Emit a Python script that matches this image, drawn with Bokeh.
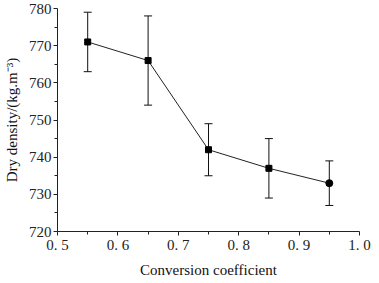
from bokeh.plotting import figure
from bokeh.models import Range1d, FixedTicker, Whisker, ColumnDataSource, TeeHead
from bokeh.embed import file_html
from bokeh.resources import INLINE

coef = [0.55, 0.65, 0.75, 0.85, 0.95]
density = [771, 766, 742, 737, 733]
upper = [779, 778, 749, 745, 739]
lower = [763, 754, 735, 729, 727]
x_ticks = [0.5, 0.6, 0.7, 0.8, 0.9, 1.0]
x_tick_labels = ["0. 5", "0. 6", "0. 7", "0. 8", "0. 9", "1. 0"]
y_ticks = [720, 730, 740, 750, 760, 770, 780]

FONT = "Liberation Serif"

p = figure(width=374, height=280, output_backend="svg", toolbar_location=None,
           x_range=Range1d(0.5, 1.0), y_range=Range1d(720, 780),
           min_border_left=57, min_border_right=15, min_border_top=8, min_border_bottom=48)
p.outline_line_color = None
p.xgrid.visible = False
p.ygrid.visible = False
p.background_fill_color = "white"

p.xaxis.ticker = FixedTicker(ticks=x_ticks, minor_ticks=[0.55, 0.65, 0.75, 0.85, 0.95])
p.xaxis.major_label_overrides = {t: l for t, l in zip(x_ticks, x_tick_labels)}
p.yaxis.ticker = FixedTicker(ticks=y_ticks, minor_ticks=[725, 735, 745, 755, 765, 775])

for ax in (p.xaxis[0], p.yaxis[0]):
    ax.axis_line_color = "#222222"
    ax.major_tick_line_color = "#222222"
    ax.minor_tick_line_color = "#222222"
    ax.major_tick_in = 0
    ax.major_tick_out = 4
    ax.minor_tick_in = 0
    ax.minor_tick_out = 3
    ax.major_label_text_font = FONT
    ax.major_label_text_font_size = "15px"
    ax.major_label_text_color = "#222222"
    ax.axis_label_text_font = FONT
    ax.axis_label_text_font_size = "15px"
    ax.axis_label_text_font_style = "normal"
    ax.axis_label_text_color = "#111111"

p.xaxis.axis_label = "Conversion coefficient"
p.yaxis.axis_label = "Dry density/(kg.m⁻³)"
p.xaxis.major_label_standoff = 1
p.xaxis.axis_label_standoff = 6
p.yaxis.major_label_standoff = 2
p.yaxis.axis_label_standoff = 6

src = ColumnDataSource(dict(x=coef, y=density, up=upper, lo=lower))
w = Whisker(source=src, base="x", upper="up", lower="lo", line_color="#111111", line_width=1,
            upper_head=TeeHead(size=8, line_color="#111111", line_width=1),
            lower_head=TeeHead(size=8, line_color="#111111", line_width=1))
p.add_layout(w)

p.line(coef, density, line_color="#222222", line_width=1)
p.scatter(coef[:-1], density[:-1], marker="square", size=6, color="black")
p.scatter(coef[-1:], density[-1:], marker="circle", size=7, color="black")

open("out.html", "w").write(file_html(p, INLINE))
